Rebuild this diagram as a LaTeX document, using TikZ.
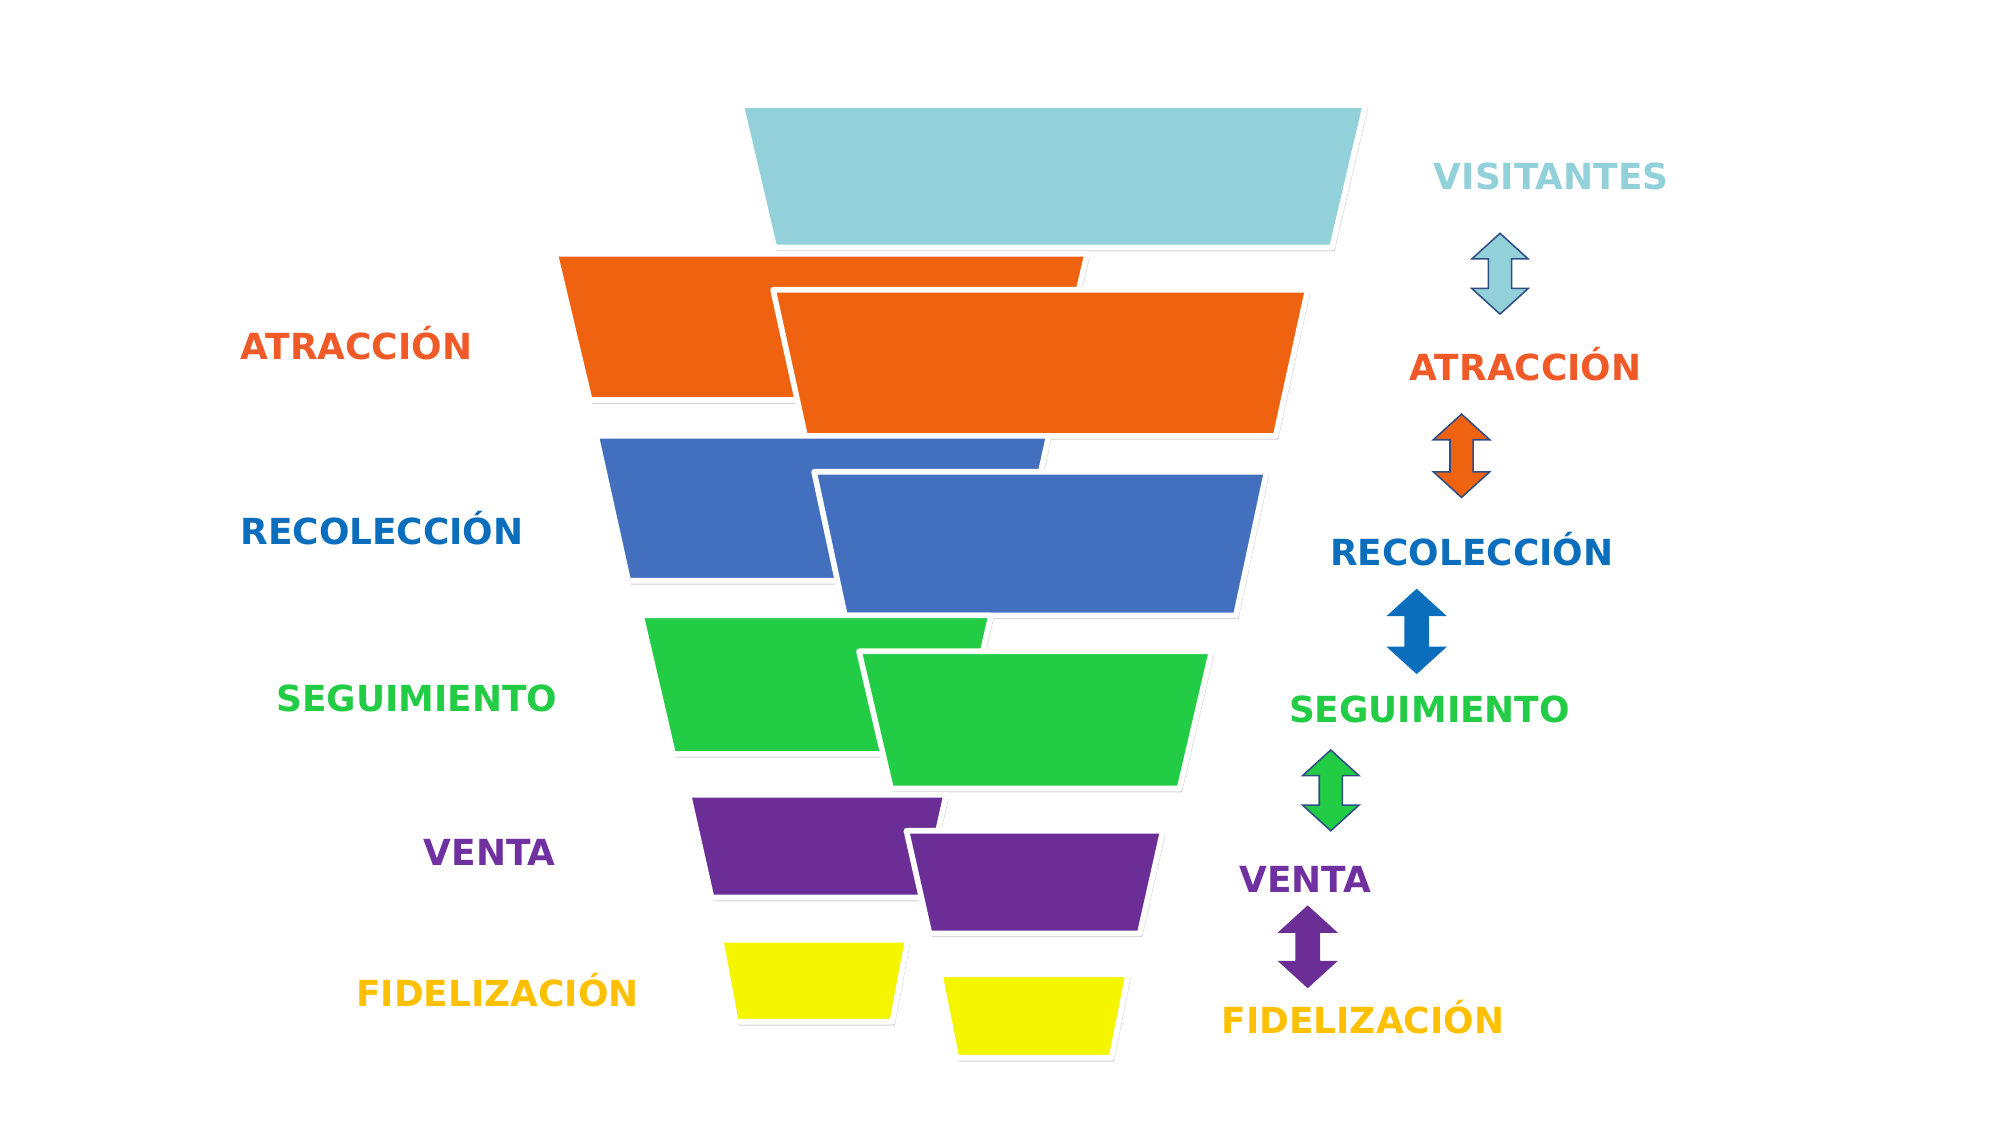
\documentclass[tikz,border=0pt]{standalone}
\usepackage{fontspec}
\setmainfont{DejaVu Sans}
\usetikzlibrary{shadows}
\definecolor{cvis}{HTML}{92D0DA}
\definecolor{cora}{HTML}{EF6210}
\definecolor{corat}{HTML}{F05A28}
\definecolor{cblu}{HTML}{4270BE}
\definecolor{cblt}{HTML}{0A6EBD}
\definecolor{cgrn}{HTML}{22CC44}
\definecolor{cpur}{HTML}{6B2D96}
\definecolor{cpurt}{HTML}{7030A0}
\definecolor{cyel}{HTML}{F5F500}
\definecolor{cyelt}{HTML}{FFC000}
\tikzset{
 seg/.style={draw=white,line width=2.2pt,line join=round,drop shadow={shadow xshift=1pt,shadow yshift=-1.5pt,opacity=0.35}},
 lbl/.style={font=\bfseries\fontsize{14}{16}\selectfont,anchor=center},
 darr/.style={line width=0.6pt,line join=miter}
}
\newcommand{\trap}[6]{% color, xtl, xtr, yt, inset, yb
 \fill[seg,fill=#1] (#2,#4) -- (#3,#4) -- (#3-#5,#6) -- (#2+#5,#6) -- cycle;}
\newcommand{\dbl}[5]{% fill, draw, x, ytop, ybot
 \filldraw[darr,fill=#1,draw=#2] (#3,#4) -- (#3+22,#4+20) -- (#3+9,#4+20) -- (#3+9,#5-20) -- (#3+22,#5-20) -- (#3,#5) -- (#3-22,#5-20) -- (#3-9,#5-20) -- (#3-9,#4+20) -- (#3-22,#4+20) -- cycle;}
\begin{document}
\begin{tikzpicture}[x=0.5pt,y=-0.5pt]
\useasboundingbox (0,0) rectangle (1560,877.5);
\trap{cvis}{578}{1065}{82}{26}{193}
\trap{cora}{433}{848}{198}{27}{312}
\trap{cora}{603}{1020}{226}{25}{340}
\trap{cblu}{465}{818}{340}{25}{453}
\trap{cblu}{635}{988}{368}{24}{480}
\trap{cgrn}{500}{773}{480}{25}{588}
\trap{cgrn}{670}{945}{508}{25}{615}
\trap{cpur}{537}{738}{620}{18}{700}
\trap{cpur}{707}{907}{648}{18}{728}
\trap{cyel}{562}{708}{733}{12}{797}
\trap{cyel}{733}{880}{760}{13}{825}
\node[lbl,text=corat] (la) at (278,268) {ATRACCIÓN};
\node[lbl,text=cblt] (lr) at (298,412) {RECOLECCIÓN};
\node[lbl,text=cgrn] (ls) at (325,545) {SEGUIMIENTO};
\node[lbl,text=cpurt] (lv) at (382,665) {VENTA};
\node[lbl,text=cyelt] (lf) at (388,772) {FIDELIZACIÓN};
\node[lbl,text=cvis] (rv) at (1210,138) {VISITANTES};
\node[lbl,text=corat] (ra) at (1190,284) {ATRACCIÓN};
\node[lbl,text=cblt] (rr) at (1148,428) {RECOLECCIÓN};
\node[lbl,text=cgrn] (rs) at (1115,553) {SEGUIMIENTO};
\node[lbl,text=cpurt] (rve) at (1018,686) {VENTA};
\node[lbl,text=cyelt] (rf) at (1063,793) {FIDELIZACIÓN};
\dbl{cvis}{cblu!70!black}{1170}{182}{245}
\dbl{cora}{cblu!70!black}{1140}{323}{388}
\dbl{cblt}{cblt}{1105}{460}{525}
\dbl{cgrn}{cblu!70!black}{1038}{585}{648}
\dbl{cpur}{cpur}{1020}{707}{770}
\end{tikzpicture}
\end{document}
